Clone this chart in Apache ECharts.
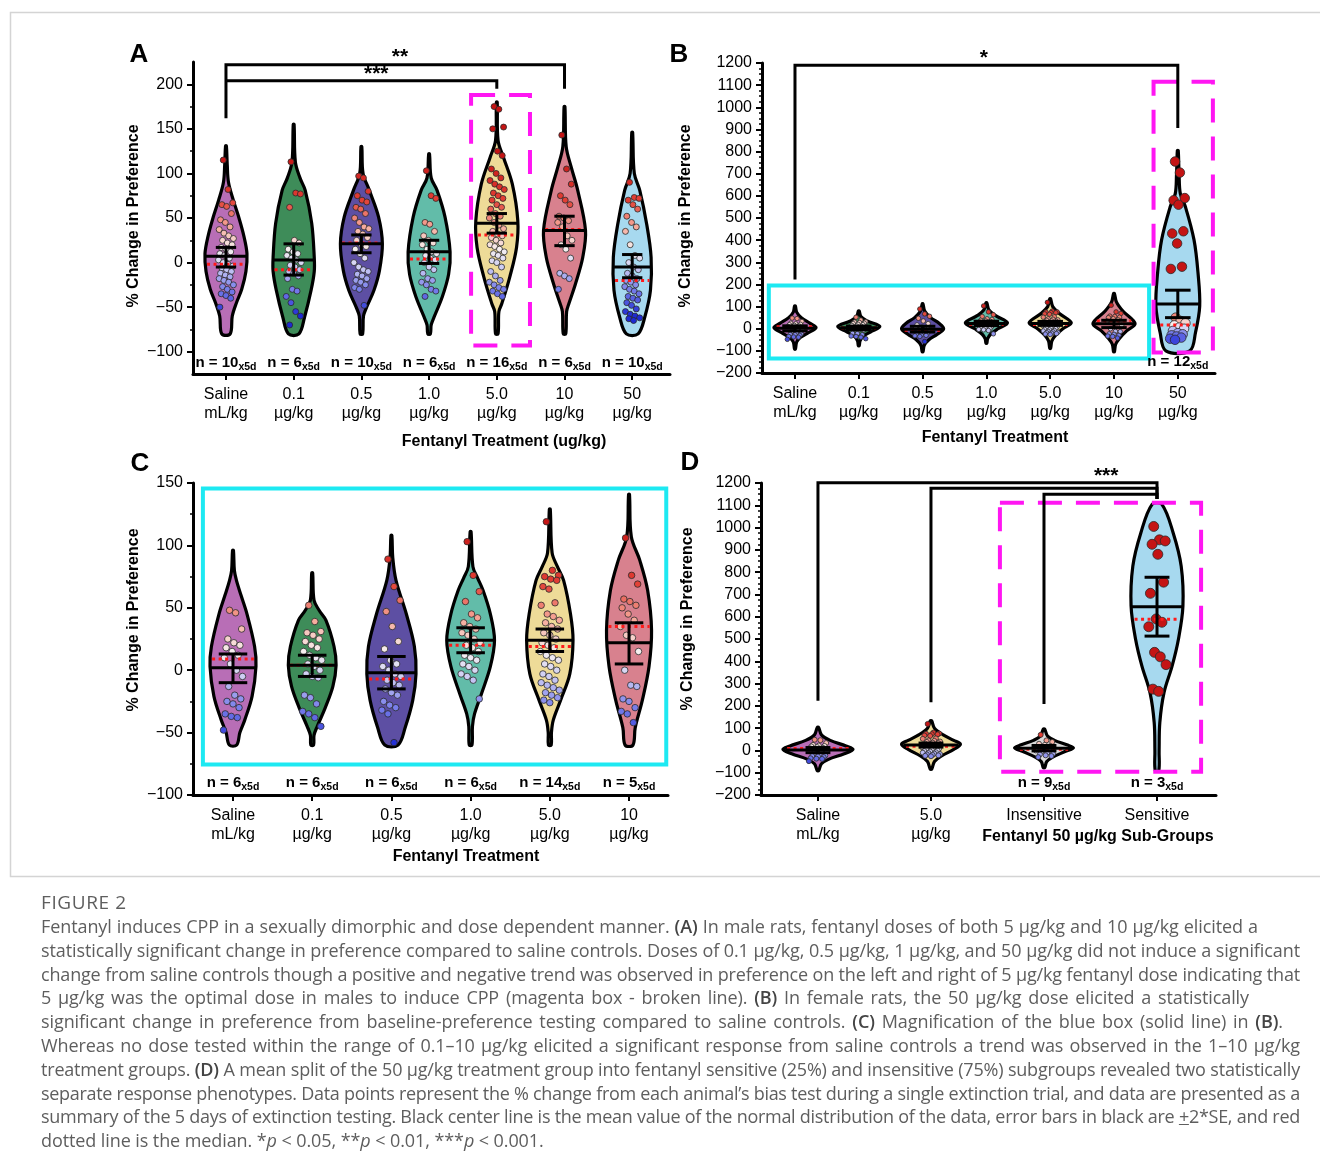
<!DOCTYPE html>
<html><head><meta charset="utf-8">
<script src="https://cdn.jsdelivr.net/npm/echarts@6/dist/echarts.min.js"></script>
<style>
html,body{margin:0;padding:0;background:#fff;width:1320px;height:1169px;overflow:hidden}
#chart{position:absolute;left:0;top:0;width:1320px;height:1169px}
#cap{position:absolute;left:41px;top:889px;font-family:"Open Sans",sans-serif;color:#5e5e5e;}
#cap .fig{font-size:19px;letter-spacing:0.6px;line-height:26px;height:26px;white-space:nowrap}
#cap .ln{font-size:18px;line-height:23.8px;height:23.8px;white-space:nowrap}
#cap .ln.just{white-space:normal;text-align:justify;text-align-last:justify}
#cap b{font-weight:600;color:#444}
</style></head>
<body>
<div id="chart"></div>
<div id="cap"><div class="fig">FIGURE 2</div></div>
<script>
const FONT = '"Liberation Sans", Arial, sans-serif';

/* ================= Panel A (male) ================= */
const catsA = ['Saline\nmL/kg','0.1\nµg/kg','0.5\nµg/kg','1.0\nµg/kg','5.0\nµg/kg','10\nµg/kg','50\nµg/kg'];
const nA = [10, 6, 10, 6, 16, 6, 10];
const meanA = [7, 3, 21, 12, 44, 36, -5];
const errHiA = [17, 21, 31, 25, 55, 52, 9];
const errLoA = [-5, -14, 11, -1, 33, 19, -17];
const medA = [-2, -8, 22, 4, 31, 37, -20];
const violinA = [
  [[131,0.02],[110,0.06],[90,0.12],[70,0.35],[50,0.62],[30,0.85],[10,1.0],[-10,0.95],[-30,0.75],[-45,0.5],[-60,0.3],[-80,0.2]],
  [[155,0.02],[113,0.08],[95,0.3],[81,0.55],[44,0.86],[6,0.98],[-10,0.98],[-31,0.83],[-61,0.52],[-80,0.25]],
  [[130,0.02],[100,0.08],[81,0.38],[51,0.82],[21,1.0],[-9,0.86],[-31,0.6],[-50,0.25],[-60,0.1],[-80,0.06]],
  [[122,0.02],[95,0.1],[81,0.38],[51,0.76],[12,1.0],[-13,0.93],[-39,0.62],[-61,0.24],[-70,0.1],[-80,0.06]],
  [[180,0.02],[137,0.06],[118,0.32],[88,0.74],[47,1.0],[17,0.94],[-16,0.62],[-46,0.24],[-55,0.1],[-80,0.06]],
  [[175,0.02],[130,0.08],[107,0.32],[81,0.63],[36,1.0],[6,0.87],[-24,0.52],[-46,0.21],[-55,0.1],[-80,0.06]],
  [[146,0.02],[100,0.1],[81,0.36],[43,0.69],[6,0.9],[-31,0.87],[-61,0.6],[-80,0.28]]
];
const ptsA = [
  [115,82,67,65,63,55,48,45,40,37,33,30,27,25,22,20,17,15,12,10,8,5,3,0,-2,-4,-6,-8,-10,-12,-14,-16,-18,-20,-22,-25,-27,-30,-33,-35,-37,-40,-50],
  [113,78,77,62,25,22,15,12,10,8,5,3,0,-3,-5,-8,-10,-12,-15,-18,-30,-32,-38,-45,-55,-60,-70],
  [97,95,80,75,70,68,62,60,55,50,45,40,38,35,32,28,25,20,18,15,10,5,0,-5,-8,-10,-13,-15,-18,-20,-22,-25,-28,-30,-48],
  [103,75,72,45,43,35,30,25,22,20,15,12,10,8,5,3,0,-5,-8,-12,-18,-20,-22,-25,-30,-32,-38],
  [175,172,152,150,125,120,105,100,95,92,88,85,82,78,75,72,70,65,62,60,55,52,50,45,42,38,35,32,30,28,25,22,20,18,15,12,10,8,5,2,0,-5,-10,-15,-20,-22,-25,-28,-30,-32,-35,-38],
  [143,105,88,75,70,65,52,50,47,45,40,30,25,20,15,5,-12,-15,-18,-30],
  [90,73,72,70,65,60,52,45,40,35,20,8,5,0,-5,-8,-12,-15,-18,-20,-22,-25,-27,-30,-32,-35,-38,-40,-42,-45,-48,-52,-55,-58,-60,-62,-63,-65]
];
const yTicksA = [-100, -50, 0, 50, 100, 150, 200];
const yMinorA = [-75, -25, 25, 75, 125, 175];

/* ================= Panel C (female, 0–10 µg/kg; magnified in B) ================= */
const catsC = ['Saline\nmL/kg','0.1\nµg/kg','0.5\nµg/kg','1.0\nµg/kg','5.0\nµg/kg','10\nµg/kg'];
const nC = [6, 6, 6, 6, 14, 5];
const meanC = [2, 4, -2, 24, 24, 22];
const errHiC = [13, 12, 11, 34, 33, 38];
const errLoC = [-10, -5, -15, 14, 15, 5];
const medC = [9, 4, -7, 20, 19, 35];
const violinC = [
  [[96,0.02],[80,0.06],[72,0.15],[60,0.35],[45,0.61],[19,0.94],[3,1.0],[-21,0.83],[-40,0.51],[-50,0.3],[-60,0.16]],
  [[78,0.02],[56,0.08],[48,0.3],[40,0.6],[19,0.95],[4,1.04],[-13,0.9],[-30,0.57],[-45,0.22],[-52,0.08],[-60,0.06]],
  [[108,0.02],[90,0.06],[72,0.2],[45,0.65],[19,1.0],[-3,1.07],[-24,0.93],[-46,0.6],[-60,0.29]],
  [[111,0.02],[83,0.1],[74,0.3],[64,0.54],[45,0.86],[24,1.04],[3,0.86],[-19,0.47],[-35,0.17],[-45,0.08],[-60,0.06]],
  [[129,0.02],[94,0.1],[83,0.33],[72,0.6],[45,0.9],[24,1.01],[-3,0.87],[-24,0.47],[-40,0.15],[-50,0.07],[-60,0.06]],
  [[141,0.02],[107,0.1],[88,0.47],[64,0.81],[32,0.98],[3,0.87],[-24,0.58],[-46,0.27],[-60,0.17]]
];
const ptsC = [
  [48,46,33,25,22,20,18,15,12,10,5,0,-5,-13,-20,-23,-25,-27,-30,-35,-37,-38,-48],
  [52,39,31,30,28,25,23,20,18,15,12,10,8,5,3,0,-3,-5,-6,-20,-22,-27,-33,-35,-38,-45],
  [89,67,56,47,35,23,17,8,5,3,0,-3,-5,-8,-10,-12,-15,-18,-20,-25,-28,-30,-32,-35,-58],
  [103,76,63,55,45,42,38,35,33,30,28,25,22,20,18,15,12,10,8,5,3,0,-3,-5,-8,-23],
  [119,80,76,75,73,72,67,65,54,52,45,43,40,38,35,33,30,28,25,22,20,18,15,12,10,8,5,3,0,-3,-5,-8,-10,-12,-14,-16,-18,-20,-22,-24,-26],
  [106,76,69,57,55,52,50,45,40,35,28,26,15,0,-12,-13,-23,-25,-30,-33,-35,-42]
];

/* ================= Panel B (female, all doses) ================= */
const catsB = ['Saline\nmL/kg','0.1\nµg/kg','0.5\nµg/kg','1.0\nµg/kg','5.0\nµg/kg','10\nµg/kg','50\nµg/kg'];
const nB = [null, null, null, null, null, null, 12];
const mean50 = 112, errHi50 = 174, errLo50 = 50, med50 = 17;
const pts50 = [755,705,590,580,560,440,430,385,280,270,50,35,25,15,5,0,-10,-20,-25,-30,-35,-40,-45,-50];
const violinB = [
  [[102,0.02],[75,0.08],[50,0.3],[25,0.7],[5,1.0],[-20,0.6],[-40,0.25],[-60,0.08],[-92,0.02]],
  [[80,0.02],[55,0.1],[35,0.4],[10,1.0],[-15,0.55],[-35,0.2],[-55,0.06],[-77,0.02]],
  [[112,0.02],[80,0.1],[50,0.38],[25,0.78],[0,1.0],[-25,0.7],[-50,0.3],[-75,0.08],[-104,0.02]],
  [[117,0.02],[85,0.12],[60,0.42],[27,1.0],[0,0.55],[-25,0.2],[-45,0.06],[-65,0.02]],
  [[135,0.02],[100,0.12],[70,0.42],[27,1.0],[0,0.6],[-30,0.25],[-55,0.08],[-89,0.02]],
  [[159,0.02],[120,0.12],[80,0.42],[23,1.0],[-10,0.6],[-45,0.25],[-70,0.08],[-104,0.02]],
  [[805,0.02],[700,0.06],[610,0.12],[551,0.36],[401,0.77],[252,0.96],[102,1.04],[-17,0.84],[-100,0.57]]
];

/* ================= Panel D (50 µg/kg sub-groups) ================= */
const catsD = ['Saline\nmL/kg','5.0\nµg/kg','Insensitive','Sensitive'];
const nD = [null, null, 9, 3];
const meanD = [2, 24, 10, 645];
const errHiD = [13, 33, 22, 777];
const errLoD = [-10, 15, -2, 513];
const medD = [9, 19, 5, 589];
const ptsInsensitive = [70,45,38,30,25,20,15,10,5,0,-5,-10,-15,-18,-22,-25,-30];
const ptsSensitive = [1005,945,940,925,880,755,705,590,575,555,440,420,385,275,265];
const violinD = [
  [[103,0.02],[70,0.1],[45,0.35],[20,0.8],[5,1.0],[-15,0.75],[-40,0.3],[-60,0.1],[-91,0.02]],
  [[133,0.02],[100,0.1],[70,0.35],[45,0.65],[28,0.84],[5,0.65],[-25,0.3],[-50,0.1],[-84,0.02]],
  [[96,0.02],[65,0.1],[45,0.3],[25,0.65],[12,0.84],[-5,0.6],[-30,0.25],[-50,0.08],[-77,0.02]],
  [[1104,0.14],[977,0.46],[827,0.69],[648,0.74],[498,0.61],[378,0.43],[259,0.2],[125,0.08],[0,0.06],[-91,0.05]]
];

/* significance brackets (annotations) */
const sigA = [
  {from:0, to:5, level:222, fromEnd:162, toEnd:195, text:'**', at:2.57},
  {from:0, to:4, level:204, fromEnd:null, toEnd:195, text:'***', at:2.22}
];
const sigB = [{from:0, to:6, level:1190, fromEnd:222, toEnd:907, text:'*', at:2.96}];
const sigD = [
  {from:0, to:3, level:1201, fromEnd:223, toEnd:1128, text:'***', at:2.55},
  {from:1, to:3, level:1176, fromEnd:216, toEnd:1128, text:'', at:0},
  {from:2, to:3, level:1150, fromEnd:208, toEnd:1128, text:'', at:0}
];

/* ================= derived tables ================= */
const ptsB = ptsC.concat([pts50]);
const meanB = meanC.concat([mean50]);
const errHiB = errHiC.concat([errHi50]);
const errLoB = errLoC.concat([errLo50]);
const medB = medC.concat([med50]);
const ptsD = [ptsC[0], ptsC[4], ptsInsensitive, ptsSensitive];

/* ================= styles ================= */
const FILL7 = ['#b86eb6','#3e8c59','#5d4fa3','#62bca9','#eedb98','#d8818e','#a7d9ef'];
const FILLD = ['#b86eb6','#eedb98','#d9d9d9','#a7d9ef'];
const MAGENTA = '#ff16f2', CYAN = '#1de9f2';

/* point colour scale (by % change) */
const cStops = [[-60,[30,42,212]],[-30,[120,126,234]],[-5,[206,206,244]],[15,[246,240,240]],[40,[246,170,155]],[70,[226,62,52]],[120,[196,20,20]]];
function valueColor(v) {
  if (v <= cStops[0][0]) return 'rgb(' + cStops[0][1].join(',') + ')';
  for (let k = 1; k < cStops.length; k++) {
    if (v <= cStops[k][0]) {
      const [t0, c0] = cStops[k-1], [t1, c1] = cStops[k];
      const f = (v - t0) / (t1 - t0);
      return 'rgb(' + c0.map((c, j) => Math.round(c + (c1[j] - c) * f)).join(',') + ')';
    }
  }
  return 'rgb(' + cStops[cStops.length-1][1].join(',') + ')';
}
function jit(j) { return (((j * 53 + 7) % 23) / 22 - 0.5) * 2; }
function interpD(prof, v) {
  if (v >= prof[0][0]) return prof[0][1];
  for (let k = 1; k < prof.length; k++) {
    const [v0, d0] = prof[k-1], [v1, d1] = prof[k];
    if (v <= v0 && v >= v1) return d0 + (d1 - d0) * (v0 - v) / (v0 - v1);
  }
  return prof[prof.length-1][1];
}
const minus = v => String(v).replace('-', '\u2212');

function makeX(g, min, max, cats) {
  const idx = cats.map((c, i) => i);
  return {type:'value', gridIndex:g, min, max,
    axisLine:{show:true, onZero:false, lineStyle:{color:'#000', width:3}},
    axisTick:{show:true, customValues:idx, length:6, lineStyle:{color:'#000', width:2}},
    axisLabel:{show:true, customValues:idx, formatter:v => cats[Math.round(v)], fontSize:16, lineHeight:19, margin:11, color:'#000', fontFamily:FONT},
    splitLine:{show:false}};
}
function makeY(g, min, max, interval, extra) {
  const ax = {type:'value', gridIndex:g, min, max, interval, position:'left',
    axisLine:{show:true, onZero:false, lineStyle:{color:'#000', width:3}},
    axisTick:{show:true, length:6, lineStyle:{color:'#000', width:2}},
    axisLabel:{show:true, color:'#000', fontSize:16, fontFamily:FONT, margin:10, formatter:minus},
    splitLine:{show:false}};
  if (extra.ticks) { ax.axisTick.customValues = extra.ticks; ax.axisLabel.customValues = extra.ticks; }
  if (extra.minorSplit) ax.minorTick = {show:true, splitNumber:extra.minorSplit, length:3, lineStyle:{color:'#000', width:1.5}};
  return ax;
}

function violinSeries(ax, profs, fills, W) {
  return {type:'custom', xAxisIndex:ax, yAxisIndex:ax, z:2, silent:true,
    data: profs.map((p, i) => [i, 0]),
    renderItem:(params, api) => {
      const i = params.dataIndex, prof = profs[i];
      const right = prof.map(([v, d]) => api.coord([i + d * W, v]));
      const left = prof.map(([v, d]) => api.coord([i - d * W, v])).reverse();
      return {type:'polygon', shape:{points:right.concat(left), smooth:0.35},
        style:{fill:fills[i], stroke:'#000', lineWidth:3.2, lineJoin:'round'}};
    }};
}
function pointSeries(ax, groups, J, sizes) {
  const data = [];
  groups.forEach((arr, i) => {
    arr.forEach((v, j) => {
      data.push({value:[i + jit(j) * J, v], symbolSize:sizes[i], itemStyle:{color:valueColor(v)}});
    });
  });
  return {type:'scatter', xAxisIndex:ax, yAxisIndex:ax, z:3, silent:true, data,
    itemStyle:{borderColor:'#2a2a2a', borderWidth:0.8, opacity:1}};
}
function statsSeries(ax, profs, W, means, lo, hi, meds, capHalf) {
  return {type:'custom', xAxisIndex:ax, yAxisIndex:ax, z:4, silent:true,
    data: means.map((m, i) => [i, m]),
    renderItem:(params, api) => {
      const i = params.dataIndex, prof = profs[i];
      const seg = (v, half, style) => { const a = api.coord([i - half, v]), b = api.coord([i + half, v]);
        return {type:'line', shape:{x1:a[0], y1:a[1], x2:b[0], y2:b[1]}, style}; };
      const blk = {stroke:'#000', lineWidth:3};
      const red = {stroke:'#ff1a1a', lineWidth:3, lineDash:[3, 3.5]};
      const c1 = api.coord([i, lo[i]]), c2 = api.coord([i, hi[i]]);
      return {type:'group', children:[
        seg(meds[i], interpD(prof, meds[i]) * W * 0.93, red),
        seg(means[i], interpD(prof, means[i]) * W * 0.97, blk),
        {type:'line', shape:{x1:c1[0], y1:c1[1], x2:c2[0], y2:c2[1]}, style:blk},
        seg(lo[i], capHalf, blk), seg(hi[i], capHalf, blk)
      ]};
    }};
}
function nLabelSeries(ax, ns, yMin, dy) {
  const data = [];
  ns.forEach((n, i) => { if (n != null) data.push([i, n]); });
  return {type:'custom', xAxisIndex:ax, yAxisIndex:ax, z:6, silent:true, data,
    renderItem:(params, api) => {
      const i = api.value(0), n = api.value(1);
      const p = api.coord([i, yMin]);
      return {type:'text', x:p[0], y:p[1] - dy,
        style:{text:'{a|n = ' + n + '}{b|x5d}', align:'center', verticalAlign:'middle',
          rich:{a:{fontSize:15, fontWeight:'bold', fontFamily:FONT, lineHeight:20, verticalAlign:'middle', fill:'#000'},
                b:{fontSize:10.5, fontWeight:'bold', fontFamily:FONT, verticalAlign:'bottom', fill:'#000'}}}};
    }};
}
function boxSeries(ax, boxes) {
  return {type:'custom', xAxisIndex:ax, yAxisIndex:ax, z:5, silent:true,
    data: boxes.map((b, i) => [i, 0]),
    renderItem:(params, api) => {
      const b = boxes[params.dataIndex];
      const p0 = api.coord([b.x0, b.y1]), p1 = api.coord([b.x1, b.y0]);
      return {type:'rect', shape:{x:p0[0], y:p0[1], width:p1[0]-p0[0], height:p1[1]-p0[1]},
        style:{fill:'none', stroke:b.color, lineWidth:4, lineDash:b.dash ? [24, 14] : null}};
    }};
}
function sigSeries(ax, sigs) {
  return {type:'custom', xAxisIndex:ax, yAxisIndex:ax, z:6, silent:true,
    data: sigs.map((s, i) => [i, 0]),
    renderItem:(params, api) => {
      const s = sigs[params.dataIndex];
      const st = {stroke:'#000', lineWidth:3, fill:'none'};
      const pts = [];
      if (s.fromEnd != null) pts.push(api.coord([s.from, s.fromEnd]));
      pts.push(api.coord([s.from, s.level]), api.coord([s.to, s.level]), api.coord([s.to, s.toEnd]));
      const ch = [{type:'polyline', shape:{points:pts}, style:st}];
      if (s.text) {
        const t = api.coord([s.at, s.level]);
        ch.push({type:'text', x:t[0], y:t[1] - 7, style:{text:s.text, align:'center', verticalAlign:'middle',
          font:'bold 21px ' + FONT, fill:'#000'}});
      }
      return {type:'group', children:ch};
    }};
}

/* axes extents (layout) */
const grids = [
  {left:193, top:62, width:477, height:312},
  {left:762, top:63, width:453, height:310},
  {left:193, top:483, width:475, height:312},
  {left:761, top:483, width:455, height:312}
];
const xAxes = [
  makeX(0, -0.487, 6.558, catsA),
  makeX(1, -0.517, 6.583, catsB),
  makeX(2, -0.505, 5.492, catsC),
  makeX(3, -0.504, 3.522, catsD)
];
const yAxes = [
  makeY(0, -125, 225, 25, {ticks:yTicksA}),
  makeY(1, -200, 1200, 100, {minorSplit:4}),
  makeY(2, -100, 150, 50, {minorSplit:2}),
  makeY(3, -200, 1200, 100, {minorSplit:4}),
  {type:'value', gridIndex:0, min:-125, max:225, interval:25, position:'left',
   axisLine:{show:false, onZero:false}, axisLabel:{show:false}, splitLine:{show:false},
   axisTick:{show:true, customValues:yMinorA, length:3, lineStyle:{color:'#000', width:1.5}}}
];

const WA = 0.31, WB = 0.33, WC = 0.29, WD = 0.31;
const series = [
  violinSeries(0, violinA, FILL7, WA),
  pointSeries(0, ptsA, 0.11, ptsA.map(() => 6)),
  statsSeries(0, violinA, WA, meanA, errLoA, errHiA, medA, 0.15),
  nLabelSeries(0, nA, -125, 11),
  boxSeries(0, [{x0:3.62, x1:4.49, y0:-93, y1:188, color:MAGENTA, dash:true}]),
  sigSeries(0, sigA),

  violinSeries(1, violinB, FILL7, WB),
  pointSeries(1, ptsB, 0.12, [4.5,4.5,4.5,4.5,4.5,4.5,9.5]),
  statsSeries(1, violinB, WB, meanB, errLoB, errHiB, medB, 0.2),
  nLabelSeries(1, nB, -200, 11),
  boxSeries(1, [{x0:-0.41, x1:5.55, y0:-134, y1:195, color:CYAN, dash:false},
                {x0:5.62, x1:6.55, y0:-107, y1:1115, color:MAGENTA, dash:true}]),
  sigSeries(1, sigB),

  violinSeries(2, violinC, FILL7, WC),
  pointSeries(2, ptsC, 0.12, ptsC.map(() => 6.5)),
  statsSeries(2, violinC, WC, meanC, errLoC, errHiC, medC, 0.18),
  nLabelSeries(2, nC, -100, 12),
  boxSeries(2, [{x0:-0.38, x1:5.47, y0:-75.6, y1:145.5, color:CYAN, dash:false}]),

  violinSeries(3, violinD, FILLD, WD),
  pointSeries(3, ptsD, 0.08, [5, 5, 5, 10]),
  statsSeries(3, violinD, WD, meanD, errLoD, errHiD, medD, 0.11),
  nLabelSeries(3, nD, -200, 12),
  boxSeries(3, [{x0:1.61, x1:3.39, y0:-96, y1:1111, color:MAGENTA, dash:true}]),
  sigSeries(3, sigD)
];

const T = (text, x, y, font, rot) => ({type:'text', x, y, rotation:rot || 0, silent:true,
  style:{text, font, fill:'#000', align:'center', verticalAlign:'middle'}});
const graphic = [
  {type:'rect', silent:true, shape:{x:10.5, y:12.5, width:1330, height:864}, style:{fill:'none', stroke:'#d4d4d4', lineWidth:1.5}},
  T('A', 139, 55, 'bold 26px ' + FONT), T('B', 679, 55, 'bold 26px ' + FONT),
  T('C', 140, 464, 'bold 26px ' + FONT), T('D', 690, 463, 'bold 26px ' + FONT),
  T('% Change in Preference', 134, 216, 'bold 16px ' + FONT, Math.PI / 2),
  T('% Change in Preference', 686, 216, 'bold 16px ' + FONT, Math.PI / 2),
  T('% Change in Preference', 134, 620, 'bold 16px ' + FONT, Math.PI / 2),
  T('% Change in Preference', 688, 619, 'bold 16px ' + FONT, Math.PI / 2),
  T('Fentanyl Treatment (ug/kg)', 504, 442, 'bold 16px ' + FONT),
  T('Fentanyl Treatment', 995, 438, 'bold 16px ' + FONT),
  T('Fentanyl Treatment', 466, 857, 'bold 16px ' + FONT),
  T('Fentanyl 50 µg/kg Sub-Groups', 1098, 837, 'bold 16px ' + FONT)
];

const chart = echarts.init(document.getElementById('chart'), null, {renderer:'canvas'});
chart.setOption({
  animation:false, backgroundColor:'#fff',
  grid: grids.map(g => Object.assign({outerBoundsMode:'none', containLabel:false}, g)),
  xAxis: xAxes, yAxis: yAxes, series, graphic
});

/* ================= caption ================= */
const captionLines = [
  'Fentanyl induces CPP in a sexually dimorphic and dose dependent manner. <b>(A)</b> In male rats, fentanyl doses of both 5 µg/kg and 10 µg/kg elicited a',
  'statistically significant change in preference compared to saline controls. Doses of 0.1 µg/kg, 0.5 µg/kg, 1 µg/kg, and 50 µg/kg did not induce a significant',
  'change from saline controls though a positive and negative trend was observed in preference on the left and right of 5 µg/kg fentanyl dose indicating that',
  '5 µg/kg was the optimal dose in males to induce CPP (magenta box - broken line). <b>(B)</b> In female rats, the 50 µg/kg dose elicited a statistically',
  'significant change in preference from baseline-preference testing compared to saline controls. <b>(C)</b> Magnification of the blue box (solid line) in <b>(B)</b>.',
  'Whereas no dose tested within the range of 0.1–10 µg/kg elicited a significant response from saline controls a trend was observed in the 1–10 µg/kg',
  'treatment groups. <b>(D)</b> A mean split of the 50 µg/kg treatment group into fentanyl sensitive (25%) and insensitive (75%) subgroups revealed two statistically',
  'separate response phenotypes. Data points represent the % change from each animal’s bias test during a single extinction trial, and data are presented as a',
  'summary of the 5 days of extinction testing. Black center line is the mean value of the normal distribution of the data, error bars in black are <u>+</u>2*SE, and red',
  'dotted line is the median. *<i>p</i> &lt; 0.05, **<i>p</i> &lt; 0.01, ***<i>p</i> &lt; 0.001.'
];
const captionWidths = [1217, 1259, 1259, 1208, 1242, 1259, 1259, 1259, 1259, 0];
(function layoutCaption() {
  const cap = document.getElementById('cap');
  const els = captionLines.map(h => {
    const d = document.createElement('div'); d.className = 'ln';
    const s = document.createElement('span'); s.innerHTML = h;
    d.appendChild(s); cap.appendChild(d); return [d, s];
  });
  const ref = els[1][1];
  const ls = (captionWidths[1] - 2 - ref.getBoundingClientRect().width) / ref.textContent.length;
  els.forEach(([d, s]) => { d.style.letterSpacing = ls + 'px'; });
  els.forEach(([d, s], k) => {
    const W = captionWidths[k];
    if (!W) return;
    const w = s.getBoundingClientRect().width;
    if (w > W - 2) d.style.letterSpacing = (ls + (W - 2 - w) / s.textContent.length) + 'px';
    d.style.width = W + 'px';
    d.classList.add('just');
  });
})();
</script>
</body></html>
